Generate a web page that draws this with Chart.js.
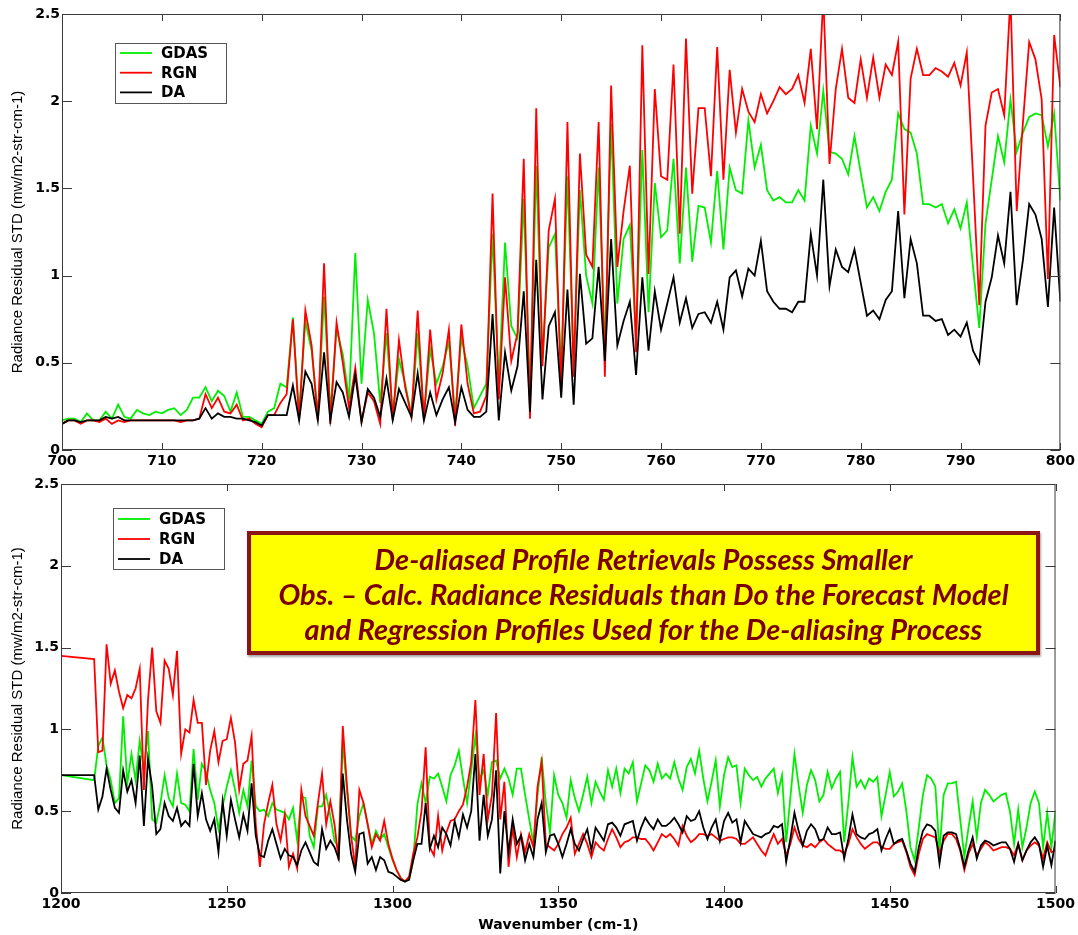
<!DOCTYPE html>
<html>
<head>
<meta charset="utf-8">
<script src="https://cdn.jsdelivr.net/npm/chart.js@4.4.1/dist/chart.umd.min.js"></script>
<style>
  body { margin: 0; background: #fff; width: 1078px; height: 935px; position: relative; overflow: hidden; }
  canvas { position: absolute; left: 0; }
  #topChart { top: 0; }
  #bottomChart { top: 470px; }
  .note {
    position: absolute; left: 247px; top: 531px; width: 793px; height: 124px;
    box-sizing: border-box; background: #ffff00; border: 4px solid #8b1414;
    box-shadow: 1px 2px 2px rgba(0,0,0,0.35);
    color: #7a0000; font: italic bold 29px Lato, "Open Sans", sans-serif;
    text-align: center; line-height: 35px; padding-top: 6px; white-space: nowrap;
  }
</style>
</head>
<body>
<canvas id="topChart" width="1078" height="470"></canvas>
<canvas id="bottomChart" width="1078" height="465"></canvas>
<div class="note">De-aliased Profile Retrievals Possess Smaller<br>Obs. &ndash; Calc. Radiance Residuals than Do the Forecast Model<br>and Regression Profiles Used for the De-aliasing Process</div>
<script>
// Channel grids (wavenumber, cm-1) for the two panels
const topStart = 700, topStep = 0.625;
const bottomFirst = 1200, bottomStart = 1210, bottomStep = 1.25;
const topXTicks = [700, 800, 10];
const bottomXTicks = [1200, 1500, 50];

const seriesLabels = ["GDAS", "RGN", "DA"];
const seriesColors = ["#00ee00", "#ff0000", "#000000"];

// 700-800 cm-1 panel
const gdasTop = [
  0.17,0.18,0.18,0.16,0.21,0.17,0.17,0.22,0.18,0.26,
  0.19,0.18,0.23,0.21,0.20,0.22,0.21,0.23,0.24,0.20,
  0.23,0.30,0.30,0.36,0.28,0.34,0.31,0.22,0.33,0.19,
  0.19,0.17,0.15,0.22,0.24,0.38,0.36,0.76,0.20,0.74,
  0.57,0.20,0.88,0.22,0.69,0.55,0.29,1.13,0.38,0.86,
  0.67,0.27,0.67,0.20,0.52,0.38,0.20,0.67,0.20,0.58,
  0.38,0.48,0.62,0.20,0.64,0.48,0.24,0.31,0.38,1.24,
  0.37,1.19,0.71,0.64,1.44,0.30,1.63,0.52,1.16,1.24,
  0.45,1.57,0.48,1.49,1.00,0.84,1.62,0.57,1.87,0.84,
  1.21,1.29,0.65,1.72,0.79,1.53,1.22,1.26,1.67,1.07,
  1.62,1.08,1.40,1.39,1.19,1.60,1.15,1.62,1.49,1.47,
  1.89,1.62,1.75,1.49,1.43,1.45,1.42,1.42,1.49,1.43,
  1.86,
  1.70,2.06,1.71,1.70,1.67,1.58,1.80,1.59,1.39,1.45,
  1.37,1.48,1.55,1.93,1.84,1.82,1.70,1.41,1.41,1.39,
  1.41,1.30,1.38,1.27,1.42,1.05,0.70,1.30,1.55,1.80,
  1.65,2.01,1.71,1.82,1.91,1.93,1.92,1.74,1.93,1.43
];
const rgnTop = [
  0.15,0.17,0.17,0.15,0.17,0.17,0.16,0.18,0.15,0.17,
  0.16,0.17,0.17,0.17,0.17,0.17,0.17,0.17,0.17,0.16,
  0.17,0.17,0.18,0.32,0.24,0.30,0.22,0.21,0.26,0.17,
  0.18,0.15,0.13,0.20,0.20,0.27,0.32,0.75,0.17,0.80,
  0.60,0.17,1.07,0.15,0.73,0.50,0.24,0.47,0.16,0.33,
  0.28,0.15,0.81,0.17,0.63,0.36,0.19,0.80,0.17,0.69,
  0.29,0.44,0.69,0.14,0.72,0.38,0.21,0.22,0.31,1.47,
  0.29,0.99,0.51,0.67,1.67,0.18,1.96,0.48,1.26,1.44,
  0.33,1.88,0.42,1.70,1.12,1.05,1.88,0.42,2.09,1.05,
  1.37,1.63,0.56,2.32,1.01,2.07,1.57,1.55,2.21,1.24,
  2.36,1.47,1.96,1.96,1.57,2.31,1.55,2.18,1.82,2.07,
  1.94,1.88,2.04,1.93,2.00,2.08,2.04,2.07,2.15,1.99,
  2.30,
  1.84,2.60,1.64,2.07,2.30,2.02,1.99,2.24,2.02,2.25,
  2.02,2.21,2.15,2.34,1.35,2.13,2.30,2.15,2.15,2.19,
  2.17,2.14,2.22,2.09,2.28,1.57,0.83,1.86,2.05,2.07,
  1.92,2.60,1.37,1.88,2.34,2.24,2.01,0.98,2.38,2.08
];
const daTop = [
  0.15,0.17,0.17,0.16,0.17,0.17,0.17,0.19,0.18,0.19,
  0.17,0.17,0.17,0.17,0.17,0.17,0.17,0.17,0.17,0.17,
  0.17,0.17,0.18,0.24,0.18,0.21,0.19,0.19,0.18,0.18,
  0.17,0.16,0.14,0.20,0.20,0.20,0.20,0.37,0.17,0.45,
  0.38,0.17,0.56,0.17,0.39,0.33,0.19,0.43,0.16,0.35,
  0.30,0.19,0.41,0.17,0.35,0.27,0.19,0.44,0.17,0.33,
  0.20,0.29,0.36,0.16,0.36,0.23,0.19,0.19,0.22,0.78,
  0.17,0.56,0.34,0.48,0.91,0.22,1.09,0.29,0.71,0.79,
  0.30,0.92,0.26,1.01,0.61,0.64,1.05,0.51,1.21,0.60,
  0.74,0.85,0.43,0.99,0.57,0.91,0.69,0.84,0.99,0.73,
  0.87,0.70,0.78,0.79,0.73,0.85,0.69,0.99,1.03,0.88,
  1.04,1.00,1.20,0.91,0.85,0.81,0.81,0.79,0.85,0.85,
  1.24,
  1.00,1.55,0.94,1.15,1.05,1.02,1.15,0.96,0.77,0.80,
  0.75,0.86,0.91,1.37,0.87,1.21,1.07,0.77,0.77,0.74,
  0.75,0.66,0.69,0.65,0.73,0.57,0.50,0.85,0.99,1.23,
  1.07,1.48,0.83,1.09,1.41,1.35,1.21,0.82,1.39,0.85
];

// 1200-1500 cm-1 panel (first value is the 1200 point, then the 1210+ grid)
const gdasBottom = [0.72,
  0.69,0.90,0.95,0.78,0.69,0.55,0.58,1.08,0.67,0.85,
  0.69,0.93,0.75,0.99,0.45,0.43,0.55,0.72,0.58,0.53,
  0.73,0.55,0.54,0.50,0.88,0.57,0.79,0.74,0.63,0.55,
  0.39,0.53,0.65,0.75,0.63,0.49,0.63,0.53,0.81,0.53,
  0.50,0.51,0.47,0.55,0.51,0.50,0.49,0.45,0.52,0.32,
  0.59,0.58,0.35,0.28,0.53,0.53,0.60,0.47,0.32,0.28,
  0.92,0.63,0.35,0.32,0.47,0.55,0.42,0.30,0.38,0.33,
  0.36,0.28,0.20,0.14,0.09,0.07,0.09,0.20,0.54,0.67,
  0.55,0.71,0.70,0.73,0.65,0.56,0.72,0.78,0.87,0.70,
  0.55,0.75,0.96,0.70,0.75,0.60,0.80,0.81,0.70,0.76,
  0.70,0.60,0.76,0.76,0.60,0.45,0.30,0.60,0.83,0.55,
  0.37,0.72,0.60,0.55,0.46,0.69,0.58,0.50,0.60,0.71,
  0.55,0.68,0.62,0.57,0.75,0.65,0.76,0.61,0.76,0.73,
  0.80,0.56,0.67,0.78,0.75,0.68,0.79,0.70,0.73,0.70,
  0.80,0.70,0.63,0.77,0.82,0.73,0.87,0.70,0.56,0.68,
  0.81,0.53,0.72,0.83,0.77,0.78,0.55,0.76,0.72,0.69,
  0.71,0.65,0.70,0.73,0.76,0.61,0.72,0.31,0.58,0.85,
  0.66,0.49,0.66,0.75,0.69,0.56,0.60,0.74,0.64,0.70,
  0.74,0.31,0.55,0.83,0.65,0.69,0.64,0.70,0.68,0.71,
  0.47,0.60,0.74,0.59,0.62,0.67,0.50,0.28,0.20,0.40,
  0.60,0.72,0.70,0.65,0.25,0.60,0.67,0.67,0.68,0.45,
  0.22,0.40,0.56,0.34,0.55,0.63,0.60,0.56,0.58,0.60,
  0.61,0.50,0.30,0.51,0.28,0.40,0.55,0.62,0.55,0.28,
  0.49,0.28,0.50
];
const rgnBottom = [1.45,
  1.43,0.86,0.87,1.52,1.28,1.36,1.23,1.13,1.21,1.19,
  1.25,1.37,0.63,1.18,1.50,1.11,1.04,1.42,1.37,1.21,
  1.48,0.85,1.00,0.98,1.18,1.04,1.04,0.66,0.87,0.99,
  0.80,0.93,0.94,1.07,0.92,0.63,0.79,0.81,0.96,0.42,
  0.16,0.42,0.55,0.66,0.42,0.32,0.48,0.16,0.24,0.15,
  0.63,0.47,0.41,0.35,0.55,0.73,0.42,0.56,0.42,0.20,
  1.02,0.66,0.35,0.16,0.63,0.55,0.42,0.28,0.36,0.32,
  0.44,0.30,0.21,0.14,0.09,0.07,0.10,0.24,0.34,0.50,
  0.89,0.28,0.23,0.47,0.26,0.37,0.44,0.45,0.50,0.54,
  0.65,0.80,1.18,0.60,0.85,0.45,0.60,1.10,0.45,0.68,
  0.16,0.40,0.22,0.36,0.25,0.36,0.28,0.65,0.80,0.30,
  0.28,0.26,0.30,0.36,0.40,0.46,0.24,0.30,0.36,0.30,
  0.22,0.31,0.28,0.26,0.33,0.39,0.34,0.28,0.31,0.32,
  0.34,0.34,0.33,0.33,0.30,0.26,0.31,0.36,0.34,0.36,
  0.33,0.29,0.41,0.35,0.31,0.33,0.36,0.36,0.35,0.36,
  0.34,0.32,0.33,0.34,0.34,0.33,0.30,0.30,0.32,0.34,
  0.30,0.26,0.23,0.30,0.36,0.30,0.33,0.23,0.30,0.40,
  0.33,0.29,0.28,0.30,0.28,0.31,0.33,0.30,0.28,0.26,
  0.26,0.24,0.30,0.39,0.34,0.30,0.27,0.29,0.31,0.31,
  0.28,0.27,0.27,0.30,0.31,0.32,0.25,0.16,0.11,0.24,
  0.33,0.36,0.35,0.34,0.24,0.32,0.36,0.36,0.33,0.26,
  0.14,0.24,0.30,0.23,0.27,0.31,0.29,0.26,0.27,0.28,
  0.28,0.27,0.23,0.30,0.20,0.26,0.29,0.31,0.29,0.21,
  0.31,0.25,0.26
];
const daBottom = [0.72,
  0.72,0.51,0.59,0.76,0.63,0.52,0.49,0.75,0.62,0.69,
  0.55,0.84,0.41,0.82,0.65,0.36,0.39,0.55,0.47,0.44,
  0.52,0.41,0.44,0.41,0.79,0.47,0.61,0.45,0.38,0.45,
  0.25,0.56,0.35,0.57,0.45,0.34,0.48,0.38,0.67,0.35,
  0.23,0.22,0.32,0.39,0.30,0.21,0.27,0.23,0.22,0.17,
  0.26,0.31,0.25,0.19,0.17,0.39,0.27,0.32,0.28,0.21,
  0.73,0.45,0.24,0.13,0.36,0.37,0.18,0.22,0.14,0.22,
  0.20,0.13,0.12,0.10,0.08,0.07,0.08,0.20,0.30,0.30,
  0.55,0.27,0.35,0.28,0.40,0.36,0.29,0.44,0.34,0.48,
  0.40,0.50,0.85,0.32,0.60,0.35,0.45,0.75,0.12,0.50,
  0.25,0.45,0.30,0.35,0.20,0.30,0.22,0.45,0.55,0.25,
  0.35,0.36,0.30,0.22,0.30,0.39,0.30,0.26,0.33,0.39,
  0.26,0.40,0.36,0.32,0.42,0.43,0.40,0.35,0.42,0.43,
  0.44,0.32,0.40,0.46,0.42,0.39,0.45,0.41,0.41,0.43,
  0.46,0.42,0.37,0.47,0.44,0.45,0.50,0.40,0.33,0.40,
  0.45,0.32,0.44,0.49,0.43,0.45,0.31,0.44,0.40,0.36,
  0.35,0.34,0.36,0.37,0.41,0.40,0.42,0.19,0.33,0.49,
  0.38,0.29,0.38,0.42,0.39,0.32,0.33,0.40,0.36,0.36,
  0.37,0.21,0.33,0.48,0.36,0.34,0.33,0.36,0.37,0.39,
  0.26,0.33,0.39,0.30,0.32,0.33,0.26,0.18,0.13,0.28,
  0.38,0.42,0.41,0.38,0.18,0.35,0.37,0.37,0.36,0.27,
  0.16,0.26,0.34,0.21,0.29,0.32,0.31,0.29,0.30,0.31,
  0.31,0.27,0.19,0.30,0.20,0.26,0.31,0.34,0.30,0.16,
  0.29,0.17,0.32
];

const yTitle = "Radiance Residual STD (mw/m2-str-cm-1)";
const xTitle = "Wavenumber (cm-1)";

const tickFont = { family: "'DejaVu Sans', sans-serif", size: 14, weight: "bold" };

// MATLAB-style box with inward ticks on all four sides, plus the boxed legend
const matlabFrame = {
  id: "matlabFrame",
  afterDraw(chart, args, opts) {
    const { ctx, chartArea: a, scales: { x, y } } = chart;
    ctx.save();
    ctx.strokeStyle = "#3a3a3a";
    ctx.lineWidth = 1;
    ctx.strokeRect(a.left + 0.5, a.top + 0.5, a.width - 1, a.height - 1);
    ctx.beginPath();
    x.ticks.forEach((t) => {
      const px = Math.round(x.getPixelForValue(t.value)) + 0.5;
      ctx.moveTo(px, a.bottom); ctx.lineTo(px, a.bottom - 7);
      ctx.moveTo(px, a.top); ctx.lineTo(px, a.top + 7);
    });
    y.ticks.forEach((t) => {
      const py = Math.round(y.getPixelForValue(t.value)) + 0.5;
      ctx.moveTo(a.left, py); ctx.lineTo(a.left + 10, py);
      ctx.moveTo(a.right, py); ctx.lineTo(a.right - 10, py);
    });
    ctx.stroke();

    const L = opts.legend;
    const bx = a.left + L.dx, by = a.top + L.dy;
    ctx.fillStyle = "#fff";
    ctx.fillRect(bx, by, L.w, L.h);
    ctx.strokeStyle = "#555";
    ctx.strokeRect(bx + 0.5, by + 0.5, L.w, L.h);
    ctx.font = "bold 15px 'DejaVu Sans', sans-serif";
    ctx.textBaseline = "middle";
    chart.data.datasets.forEach((ds, i) => {
      const ry = by + L.first + i * L.gap;
      ctx.strokeStyle = ds.borderColor;
      ctx.lineWidth = 1.8;
      ctx.beginPath();
      ctx.moveTo(bx + 5, ry); ctx.lineTo(bx + 37, ry);
      ctx.stroke();
      ctx.fillStyle = "#000";
      ctx.fillText(ds.label, bx + 46, ry + 1);
    });
    ctx.restore();
  }
};

function buildDatasets(xs, valueSets) {
  return valueSets.map((vals, i) => ({
    label: seriesLabels[i],
    data: vals.map((v, j) => ({ x: xs[j], y: v })),
    borderColor: seriesColors[i],
    borderWidth: 1.8,
    pointRadius: 0,
    tension: 0,
    order: 3 - i
  }));
}

function renderPanel(canvasId, xs, valueSets, xTicks, geom) {
  new Chart(document.getElementById(canvasId), {
    type: "line",
    data: { datasets: buildDatasets(xs, valueSets) },
    options: {
      responsive: false,
      animation: false,
      devicePixelRatio: 1,
      layout: { padding: { top: geom.top, right: geom.right, left: 0, bottom: 0 } },
      plugins: {
        legend: { display: false },
        tooltip: { enabled: false },
        matlabFrame: { legend: geom.legend }
      },
      scales: {
        x: {
          type: "linear", min: xTicks[0], max: xTicks[1],
          grid: { display: false, drawTicks: false }, border: { display: false },
          ticks: { stepSize: xTicks[2], color: "#000", font: tickFont, padding: 3, maxRotation: 0,
                   callback: (v) => String(v) },
          title: { display: geom.xTitle, text: xTitle, color: "#000", font: tickFont,
                   padding: { top: 0, bottom: 1 } },
          afterFit: (s) => { s.height = geom.xHeight; }
        },
        y: {
          min: 0, max: 2.5,
          grid: { display: false, drawTicks: false }, border: { display: false },
          ticks: { stepSize: 0.5, color: "#000", font: tickFont, padding: 2, callback: (v) => String(v) },
          title: { display: true, text: yTitle, color: "#000",
                   font: { family: "'Liberation Sans', Arial, sans-serif", size: 15 },
                   padding: { top: 9, bottom: 0 } },
          afterFit: (s) => { s.width = geom.yWidth; }
        }
      }
    },
    plugins: [matlabFrame]
  });
}

const topX = gdasTop.map((_, i) => topStart + i * topStep);
const bottomX = [bottomFirst].concat(gdasBottom.slice(1).map((_, i) => bottomStart + i * bottomStep));

renderPanel("topChart", topX, [gdasTop, rgnTop, daTop], topXTicks,
  { top: 14, right: 16, yWidth: 62, xHeight: 20, xTitle: false,
    legend: { dx: 53, dy: 29, w: 111, h: 60, first: 10, gap: 19.7 } });

renderPanel("bottomChart", bottomX, [gdasBottom, rgnBottom, daBottom], bottomXTicks,
  { top: 14, right: 22, yWidth: 61, xHeight: 42, xTitle: true,
    legend: { dx: 52, dy: 24, w: 111, h: 61, first: 11, gap: 20 } });
</script>
</body>
</html>
